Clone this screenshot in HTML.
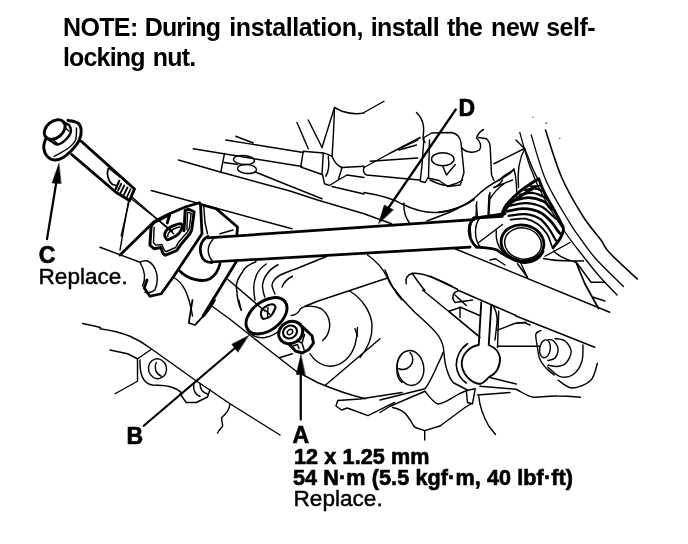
<!DOCTYPE html>
<html><head><meta charset="utf-8"><style>
html,body{margin:0;padding:0;background:#fff;}
body{width:688px;height:544px;position:relative;overflow:hidden;font-family:"Liberation Sans",sans-serif;color:#000;}
.t{position:absolute;white-space:nowrap;line-height:1;filter:grayscale(1);}
.note{font-size:25px;font-weight:bold;transform:scaleY(1.045);transform-origin:0 21.2px;}
.lb{font-size:23px;font-weight:bold;-webkit-text-stroke:0.65px #000;}
.lr{font-size:22.6px;-webkit-text-stroke:0.45px #000;}
svg{position:absolute;left:0;top:0;}
</style></head><body>
<div class="t note" style="top:15px;left:63px;letter-spacing:-0.636px;">NOTE:</div>
<div class="t note" style="top:15px;left:144.7px;letter-spacing:-0.834px;">During</div>
<div class="t note" style="top:15px;left:229.3px;letter-spacing:-0.388px;">installation,</div>
<div class="t note" style="top:15px;left:370.7px;letter-spacing:-0.549px;">install</div>
<div class="t note" style="top:15px;left:447.1px;letter-spacing:-0.848px;">the</div>
<div class="t note" style="top:15px;left:491.1px;letter-spacing:-0.337px;">new</div>
<div class="t note" style="top:15px;left:546.2px;letter-spacing:-0.52px;">self-</div>
<div class="t note" style="top:45px;left:63px;letter-spacing:-0.84px;">locking</div>
<div class="t note" style="top:45px;left:152.75px;letter-spacing:-0.806px;">nut.</div>
<div class="t lb" id="lD" style="left:458.5px;top:97px;">D</div>
<div class="t lb" id="lC" style="left:38.7px;top:244px;">C</div>
<div class="t lr" id="lCr" style="left:38.5px;top:265.8px;">Replace.</div>
<div class="t lb" id="lB" style="left:126.5px;top:424.5px;">B</div>
<div class="t lb" id="lA" style="left:292.5px;top:424px;">A</div>
<div class="t lb" id="lA1" style="left:294px;top:446px;font-size:21.6px;letter-spacing:0.1px;">12 x 1.25 mm</div>
<div class="t lb" id="lA2" style="left:293px;top:467px;font-size:21.6px;letter-spacing:0.1px;">54 N·m (5.5 kgf·m, 40 lbf·ft)</div>
<div class="t lr" id="lA3" style="left:293.5px;top:488px;">Replace.</div>
<svg id="art" width="688" height="544" viewBox="0 0 688 544" fill="none" stroke="#000" stroke-width="1.3" stroke-linecap="round" stroke-linejoin="round">

<path d="M207.5 237.9 L474 219.6" stroke-width="2.7"/>
<path d="M211 262 L470 247.2" stroke-width="2.7"/>
<!-- wheel arcs -->
<path d="M519.8 132.5 C521.4 138.1 525.9 155.4 529.8 166.0 C533.6 176.6 537.1 185.0 543.0 196.0 C548.9 207.0 558.3 222.0 565.0 232.0 C571.7 242.0 577.2 248.5 583.0 256.0 C588.8 263.5 594.3 270.5 600.0 277.0 C605.7 283.5 614.2 292.0 617.0 295.0" stroke-width="1.3"/>
<path d="M531.2 135.0 C533.7 142.7 539.8 166.4 546.2 181.0 C552.6 195.6 564.0 213.1 569.6 222.6 C575.2 232.1 575.6 231.9 580.0 238.0 C584.4 244.1 588.8 250.9 596.0 259.0 C603.2 267.1 618.9 281.9 623.5 286.5" stroke-width="1.3"/>
<path d="M545.5 130.0 C548.2 137.8 555.3 162.7 561.5 177.0 C567.7 191.3 576.2 205.5 582.8 216.0 C589.4 226.5 596.6 233.9 601.0 240.0 C605.4 246.1 603.2 246.0 609.3 252.5 C615.3 259.0 632.6 274.6 637.3 279.0" stroke-width="1.6"/>
<!-- bottom extras -->
<g stroke-width="1.4">
<path d="M337.8 400.5 L335.9 406 L341.6 410 L347.2 408 L368 415.6 L394.5 402.4"/>
<path d="M413.75 426 L415.3 427.5 L424.7 430.7 L424.7 440 M424.7 430.7 L440 426"/>
</g>
<!-- bushing right -->
<g stroke-width="1.4">
<ellipse cx="545" cy="348.8" rx="5.3" ry="9" transform="rotate(8 545 348.8)"/>
<path d="M548.0 339.6 C548.8 339.8 551.3 339.0 553.0 340.5 C554.7 342.0 557.7 345.9 558.0 348.8 C558.3 351.7 556.7 356.1 555.0 358.0 C553.3 359.9 549.2 360.1 548.0 360.5"/>
<path d="M555.0 338.5 C556.7 338.9 562.3 338.9 565.0 341.0 C567.7 343.1 571.0 347.7 571.2 351.4 C571.4 355.1 568.4 360.5 566.0 363.0 C563.6 365.5 560.0 366.2 557.0 366.5 C554.0 366.8 549.5 365.2 548.0 365.0"/>
<path d="M541.0 330.5 C540.1 331.1 536.5 331.4 535.9 334.0 C535.3 336.6 536.6 341.8 537.2 346.0 C537.9 350.2 538.3 355.3 539.8 359.0 C541.3 362.7 543.6 365.3 546.0 368.0 C548.4 370.7 552.8 373.8 554.2 375.0"/>
<path d="M583.0 344.9 C582.8 347.7 583.5 356.9 581.7 361.9 C580.0 366.9 576.2 372.6 572.5 375.0 C568.8 377.4 563.5 377.6 559.4 376.3 C555.3 375.0 549.7 368.6 547.7 367.0"/>
<path d="M597.4 363.2 C596.3 366.0 594.9 376.1 590.8 380.2 C586.6 384.3 578.0 388.0 572.5 388.0 C567.0 388.0 560.5 381.5 558.1 380.2"/>
</g>
<!-- tile1 origin 20,100 -->
<g transform="translate(20,100) scale(0.25)" stroke-width="5.7">
 <g stroke-width="11.8">
  <ellipse cx="139" cy="118" rx="47" ry="33" transform="rotate(-40 139 118)"/>
  <path d="M172.0 90.0 C176.1 91.8 191.3 94.2 196.4 100.8 C201.5 107.4 205.4 119.7 202.8 129.6 C200.2 139.5 189.6 152.3 180.8 160.4 C172.0 168.5 158.8 176.9 150.0 178.0 C141.2 179.1 134.6 170.9 128.0 167.2 C121.4 163.5 113.3 157.9 110.4 156.0" stroke-width="9.5"/>
  <path d="M192.0 81.2 C198.6 83.0 222.8 85.1 231.6 92.0 C240.4 98.9 244.1 111.0 244.8 122.8 C245.5 134.6 241.9 150.3 236.0 162.8 C230.1 175.3 219.9 187.0 209.6 198.0 C199.3 209.0 186.2 221.8 174.4 228.8 C162.6 235.8 149.9 240.7 138.8 240.0 C127.7 239.3 115.3 232.9 108.0 224.4 C100.7 215.9 95.9 200.2 94.8 189.2 C93.7 178.2 100.5 163.5 101.6 158.4" stroke-width="11.8"/>
  <path d="M245 165 L458 356 L438 402"/>
  <path d="M207 218 L385 370 L438 402"/>
  <path d="M108 556 L146 325" stroke-width="9"/>
 </g>
 <path d="M155.6 255 L128 332 L163.5 334 Z" fill="#000" stroke-width="2"/>
 <path d="M178.8 110 L196 124 M134.4 158.4 L150 176"/>
 <path d="M226.0 112.0 C225.3 120.0 227.3 146.7 222.0 160.0 C216.7 173.3 208.3 181.0 194.0 192.0 C179.7 203.0 145.7 220.3 136.0 226.0"/>
 <path d="M353 275 C345 295 352 325 370 338 L388 343 M357 273 L399 306" stroke-width="7"/>
 <path d="M397 323 L383 356" stroke-width="8.5"/>
 <path d="M405 335 L392 362 M417 342 L402 372 M430 350 L414 382 M442 357 L426 392" stroke-width="7"/>
 <path d="M445 395 L610 525"/>
 <path d="M437 402 L405 544"/>
</g>
<!-- tile2 origin 120,180 -->
<g transform="translate(120,180) scale(0.25)" stroke-width="5.7">
 <path d="M50 70 L215 215"/>
 <path d="M35 80 L0 280"/>
 <path d="M125 42 L688 195"/>
 <g stroke-width="11.2">
  <path d="M0 300 L136 167 L189 139 L261 108 L318 91"/>
  <path d="M322 98 L328 215 L215 385 L165 455 L120 465 L97 432 L108 400"/>
  <path d="M124.5 184 L119.7 260.6 L136.4 275 L162.7 270 L172.2 294 L181.8 301 L227.2 282 L241.5 260.6 L279.7 215 L286.9 198.5 L296.4 127 L275 117 L260.6 122 L258 170 L255.8 203" stroke-width="11.8"/>
  <path d="M124.5 184 L136.4 170 L189 143.6 L198.5 141 L189 172" stroke-width="11.2"/>
  <path d="M181.8 229.5 C178 224 178 218 179.4 212.8 C182 205 187 199 193.7 193.7 C202 187 212 183 222.4 179.4 C230 176.5 238 175 243.9 174.6 C249 178 250 183 248.7 189 C246 198 242 206 236.7 212.8 C229 221 219 227 208 232 C201 236 195 238 189 239 C185 237 183 233 181.8 229.5 Z" stroke-width="11.2"/>
  <path d="M322 98 L385 115 L470 188 L468 215"/>
  <path d="M352 226 C325 240 315 270 325 300 C330 320 345 330 368 330"/>
  <path d="M240 365 C275 400 330 410 360 395 C385 380 395 355 400 335"/>
  <path d="M468 322 L332 544"/>
 </g>
 <path d="M136.4 189 L134 251 L143.6 260.6 L167.5 258 L177 279.7 L184 287 L222.4 270 L234.3 248.7 L270 208 L277.3 193.7 L284.5 134 L275 129.3 L270 131.6 L267.8 198.5"/>
 <path d="M191 226 C190 215 200 203 215 196 C225 191 235 188 240 188"/>
 <path d="M335 105 L340 170 L350 215"/>
 <path d="M372 238 C350 260 345 295 368 322"/>
 <path d="M400 215 L452 200"/>
 <path d="M215 390 C250 410 275 450 290 544"/>
 <path d="M432 398 L579 524"/>
 <path d="M544 327 C510 340 495 355 490 368 C470 395 462 420 467 439 C468 470 475 500 485 521"/>
 <path d="M585 336 C565 350 552 365 546 380 C538 400 534 415 535 433 C535 450 537 465 540 480"/>
 <path d="M632 339 C610 350 595 365 585 380 C575 395 570 410 570 427 C572 445 575 458 579 468"/>
 <path d="M828.0 305.0 C810.0 312.3 744.7 339.2 720.0 349.0 C695.3 358.8 692.5 359.2 680.0 364.0 C667.5 368.8 655.0 372.7 645.0 378.0 C635.0 383.3 626.2 388.8 620.0 396.0 C613.8 403.2 608.0 411.0 608.0 421.0 C608.0 431.0 618.0 450.2 620.0 456.0"/>
 <path d="M690 385 C670 395 655 410 648 428"/>
</g>

<!-- tile3 origin 192,100 -->
<g transform="translate(192,100) scale(0.25)" stroke-width="5.7">
 <path d="M135 160 L445 210"/>
 <path d="M175 145 L245 172"/>
 <path d="M5 195 L440 266"/>
 <path d="M130 214 L115 290"/>
 <path d="M-54 240 L113 288 L392 364 L502 400 L688 455 L798 495"/>
 <path d="M129 250 L182 258"/>
 <path d="M251 287 L392 344 L520 395"/>
 <ellipse cx="208" cy="240" rx="42" ry="18" transform="rotate(5 208 240)"/>
 <ellipse cx="220" cy="276" rx="38" ry="18" transform="rotate(5 220 276)"/>
 <path d="M445 205 L525 212 L520 298 L435 268 Z"/>
 <path d="M525 212 C545 215 555 225 560 225 C565 160 568 90 570 30 L600 45 C630 55 660 58 688 52"/>
 <path d="M570 30 L520 190"/>
 <path d="M420 90 L465 195 M465 80 L520 190"/>
 <path d="M560 225 C570 250 585 265 600 270 L688 265"/>
 <path d="M600 270 L585 320 L550 342 L530 335 L522 298"/>
 <path d="M585 320 L620 300 L688 310"/>
 <path d="M560 346 L688 376"/>
 <path d="M545 225 C550 260 545 290 535 305"/>
</g>

<!-- tile4 origin 364,100 -->
<g transform="translate(364,100) scale(0.25)" stroke-width="5.7">
 <path d="M367 38 L96 434" stroke-width="9"/>
 <path d="M58.4 494 L81 420 L117 439 Z" fill="#000" stroke-width="2"/>
 <path d="M0 50 L80 5"/>
 <path d="M0 270 L100 215 L225 150"/>
 <path d="M25 245 L215 232"/>
 <path d="M0 270 C-5 285 0 295 10 300 L222 320"/>
 <path d="M140 200 L210 180 M150 190 L215 160"/>
 <path d="M210 50 C240 80 242 110 236 150 C236 165 245 170 245 170"/>
 <path d="M240 150 L270 132 L350 130 C375 135 385 150 388 170 L400 290 L385 340 L335 346 L300 322 L255 312 L245 330 L225 325 L232 260 Z"/>
 <path d="M262 160 L258 310"/>
 <ellipse cx="315" cy="237" rx="45" ry="26"/>
 <path d="M315 265 L330 300 L365 258"/>
 <path d="M390 190 C405 210 440 215 462 200 C472 185 465 165 450 152 C455 135 465 125 478 118"/>
 <path d="M458 150 L490 155 C500 165 505 175 505 190 L510 300 L520 322"/>
 <path d="M520 255 L640 195"/>
 <path d="M0 370 C60 380 110 392 150 415 C200 440 240 452 290 450 C350 445 410 420 450 385 C480 355 510 335 545 318 C570 305 590 290 600 275"/>
 <path d="M160 412 C158 440 165 470 182 492"/>
 <path d="M440 472 L552 465" stroke-width="11.2"/>
 <path d="M440 472 C425 485 418 510 425 544" stroke-width="11.2"/>
 <path d="M552 465 C560 440 580 415 610 395 C640 375 665 360 688 348" stroke-width="11.2"/>
 <path d="M451 408 L448 467 M500 380 L496 463"/>
 <path d="M252 484 L343 449 L378 432"/>
 <path d="M301 449 C350 445 400 425 440 398" stroke-width="7.5"/>
 <path d="M500 400 C520 370 545 345 560 335"/>
 <path d="M600 280 C610 300 610 350 612 390"/>
 <path d="M540 320 C560 300 580 290 600 280"/>
</g>

<!-- tile5 origin 516,100 -->
<g transform="translate(516,100) scale(0.25)" stroke-width="5.7">
 <path d="M0 160 L35 195 C50 230 65 280 90 320"/>
 <path d="M35 195 C15 230 5 290 10 350"/>
 <rect x="66" y="67" width="4" height="4" fill="#000" stroke="none"/>
 <rect x="118" y="90" width="5" height="5" fill="#000" stroke="none"/>
 <rect x="173" y="151" width="4" height="4" fill="#000" stroke="none"/>
</g>

<!-- tile6 origin 20,236 -->
<g transform="translate(20,236) scale(0.25)" stroke-width="5.7">
 <path d="M320 45 L480 105 C490 100 500 98 510 100 C545 115 560 170 540 215 C530 225 510 228 500 225"/>
 <path d="M480 105 C500 140 505 170 490 200" />
 <path d="M250 350 C280 356 300 360 322 366"/>
</g>
<!-- tile7 origin 100,300 -->
<g transform="translate(100,300) scale(0.25)" stroke-width="5.7">
 <path d="M0 115 C50 122 95 135 120 145 C160 162 185 180 205 195 L380 320 L520 415 L688 520 L720 540"/>
 <path d="M40 200 L110 215 L150 235 L205 198"/>
 <path d="M150 235 L150 325 L60 375"/>
 <path d="M160 240 C158 300 172 335 210 340 C260 340 300 345 330 375"/>
 <ellipse cx="230" cy="275" rx="36" ry="40" transform="rotate(-15 230 275)"/>
 <path d="M225 250 C215 270 222 295 245 305"/>
 <path d="M320 375 L345 410 L385 410 L430 388 L440 358"/>
 <path d="M375 335 C372 360 380 378 400 386 M400 335 C400 355 410 370 430 376"/>
 <path d="M175 503 L545 188" stroke-width="9"/>
 <path d="M595 142 L527 177 L551 208 Z" fill="#000" stroke-width="2"/>
 <path d="M370 0 C365 30 360 60 355 92 L380 100 C395 85 405 70 420 60 C435 40 450 20 460 0" stroke-width="7"/>
 <path d="M555 0 L565 40"/>
 <path d="M520 415 C518 440 505 455 487 470 C485 485 492 495 490 505 C482 515 475 522 470 532"/>
</g>

<!-- tile8 origin 230,270 -->
<g transform="translate(230,270) scale(0.25)" stroke-width="5.7">
 <ellipse cx="146" cy="183" rx="93" ry="58" transform="rotate(-37 146 183)" stroke-width="11.8"/>
 <path d="M66 225 C72 255 100 275 140 270 C165 265 185 255 200 240"/>
 <path d="M124 179 C122 165 130 152 139 149 C150 140 165 136 174 138 C182 142 184 150 180 155 C175 168 170 178 162 185 C152 192 142 196 133 196 C127 192 125 186 124 179 Z" stroke-width="8.5"/>
 <path d="M140 160 L160 178 M152 150 L150 185"/>
 <ellipse cx="243" cy="250" rx="50" ry="43" transform="rotate(-30 243 250)" stroke-width="11.8"/>
 <ellipse cx="240" cy="248" rx="29" ry="25" transform="rotate(-30 240 248)" stroke-width="8.5"/>
 <ellipse cx="240" cy="248" rx="12" ry="9" transform="rotate(-40 240 248)" stroke-width="6"/>
 <path d="M289 226 L328 263 L334 292 L315 318 L289 332 L262 324 L236 296" stroke-width="11.8"/>
 <path d="M268 284 L288 292 L298 258 M288 292 L296 318 M252 304 L270 298 L276 314" stroke-width="6"/>
 <path d="M283 598 L283 410" stroke-width="9"/>
 <path d="M283.6 339 L265 418 L300 418 Z" fill="#000" stroke-width="2"/>
 <path d="M-70 146 L0 197 L130 300 L265 405 L350 450 C420 480 480 500 540 515"/>
 <path d="M200 350 L250 335"/>
 <path d="M380 462 L600 275"/>
 <path d="M245 182 C262 180 275 170 282 155 C300 140 340 142 365 155 C395 175 405 215 395 245 C390 262 380 275 370 282"/>
 <path d="M320 335 C335 360 360 382 400 385 C450 385 485 345 500 300 C508 270 510 250 510 230"/>
 <path d="M480 85 C530 115 565 170 568 220 C570 270 550 315 520 350"/>
 <path d="M620 0 C635 40 655 85 688 120"/>
 <path d="M431 522 L520 516 L688 490"/>
 <path d="M688 335 C672 350 665 380 668 410 C670 430 678 442 688 450"/>
</g>

<!-- tile9 origin 280,200 -->
<g transform="translate(280,200) scale(0.25)" stroke-width="5.7">
 <path d="M100 425 L150 405 L430 312"/>
 <path d="M350 220 C380 240 410 270 430 312 C440 335 450 350 460 360"/>
 <path d="M505 335 C500 315 510 300 530 293 C570 290 630 315 688 345"/>
 <path d="M530 295 C550 325 565 345 580 362"/>
 <path d="M300 515 L310 544"/>
</g>

<!-- tile10 origin 430,180 -->
<g transform="translate(430,180) scale(0.25)" stroke-width="5.7">
 <g stroke-width="11.2">
  <path d="M175 152 C150 180 148 232 185 268"/>
  <path d="M185 152 L300 135"/>
  <path d="M185 268 C215 272 245 270 268 280 C295 298 330 325 375 330 C410 332 440 315 452 285"/>
  <ellipse cx="370" cy="252" rx="86" ry="72" transform="rotate(12 370 252)"/>
  <path d="M286.0 138.0 C289.3 131.5 295.0 113.3 306.0 99.0 C317.0 84.7 335.3 66.3 352.0 52.0 C368.7 37.7 392.2 22.3 406.0 13.0 C419.8 3.7 430.2 -1.2 435.0 -4.0" stroke-width="11.8"/>
  <path d="M435.0 -4.0 C438.8 5.3 448.5 32.7 458.0 52.0 C467.5 71.3 481.0 92.0 492.0 112.0 C503.0 132.0 517.0 157.7 524.0 172.0 C531.0 186.3 535.0 187.0 534.0 198.0 C533.0 209.0 525.0 225.8 518.0 238.0 C511.0 250.2 496.3 265.5 492.0 271.0" stroke-width="11.5"/>
  <path d="M402.6 26.2 L443.0 22.5" stroke-width="8"/>
  <path d="M380.6 40.9 C386.7 39.7 405.2 32.9 417.4 33.5 C429.6 34.1 447.9 42.8 454.0 44.6" stroke-width="9"/>
  <path d="M358.5 59.3 C367.1 58.1 392.8 50.1 410.0 51.9 C427.2 53.7 451.8 66.3 461.5 70.3 C471.2 74.3 466.9 75.0 468.0 76.0" stroke-width="9"/>
  <path d="M336.5 81.3 C346.3 79.5 375.7 69.7 395.3 70.3 C414.9 70.9 440.6 78.9 454.0 85.0 C467.4 91.1 470.5 101.5 476.0 107.0 C481.5 112.5 485.2 116.2 487.0 118.0" stroke-width="11.5"/>
  <path d="M318.0 103.4 C328.4 101.6 359.1 91.8 380.6 92.4 C402.1 93.0 428.4 98.4 446.8 107.0 C465.2 115.6 481.5 135.8 491.0 143.8 C500.5 151.8 501.8 153.1 504.0 155.0" stroke-width="8.5"/>
  <path d="M307.0 125.4 C318.0 123.6 350.9 113.8 373.0 114.4 C395.1 115.0 421.0 120.4 439.4 129.0 C457.8 137.6 472.5 154.8 483.5 165.9 C494.5 177.0 499.7 187.5 505.6 195.3 C511.5 203.2 516.8 210.1 519.0 213.0" stroke-width="11.5"/>
  <path d="M314.4 143.8 C325.4 142.6 359.8 134.7 380.6 136.5 C401.4 138.3 423.5 145.1 439.4 154.9 C455.3 164.7 466.2 182.5 476.0 195.3 C485.8 208.2 492.8 223.4 498.0 232.0 C503.2 240.6 505.5 244.5 507.0 247.0" stroke-width="9"/>
  <path d="M321.8 158.5 C331.6 157.9 362.2 151.8 380.6 154.9 C399.0 158.0 417.3 166.6 432.0 177.0 C446.7 187.4 460.2 204.6 468.8 217.4 C477.4 230.2 480.3 246.1 483.5 254.0 C486.7 261.9 487.2 263.2 488.0 265.0" stroke-width="7"/>
 </g>
 <path d="M198 152 C176 185 176 236 202 270"/>
 <ellipse cx="372" cy="254" rx="74" ry="62" transform="rotate(12 372 254)"/>
 <path d="M195 250 L290 178"/>
 <path d="M265 200 C262 240 272 268 292 288"/>
 <path d="M100 275 L719 529"/>
 <path d="M0 385 L110 437"/>
 <path d="M460 305 L560 250"/>
 <path d="M240 320 L262 315 L300 340 M350 335 L390 390"/>
 <path d="M260 30 C275 20 285 10 290 0"/>
 <path d="M185 100 L190 148 M240 50 L236 140"/>
 <path d="M255 30 C280 20 305 10 330 0"/>
 <path d="M0 0 C30 15 60 25 80 22 C100 15 120 10 130 0"/>
</g>

<!-- tile11 origin 516,236 -->
<g transform="translate(516,236) scale(0.25)" stroke-width="5.7">
 <path d="M110 90 C150 100 190 100 235 100 L270 100 M150 60 C165 75 200 95 240 105"/>
 <path d="M240 105 L275 190 L330 290" stroke-width="7"/>
 <path d="M245 110 L300 185 L355 185"/>
 <path d="M310 245 L355 260"/>
 <path d="M20 110 L45 165"/>
 <path d="M0 320 L315 445"/>
 <path d="M0 350 L40 345"/>
</g>
<!-- tile12 origin 380,290 -->
<g transform="translate(380,290) scale(0.25)" stroke-width="5.7">
 <path d="M405 50 L395 220 C360 225 330 255 327 290 C325 330 360 372 400 376 C420 372 425 355 440 345 C465 335 482 305 480 270 C475 245 455 228 435 220 L445 60" stroke-width="7.5"/>
 <path d="M350 215 C320 235 305 270 305 300 C308 335 320 355 345 372" stroke-width="6.5"/>
 <path d="M60 0 C90 40 115 65 140 90 C180 125 215 155 235 185 C250 210 255 230 255 245 C258 275 260 300 268 320 C275 345 285 362 295 372 L350 400"/>
 <path d="M170 0 L390 180"/>
 <path d="M310 0 L544 102"/>
 <path d="M310 5 C290 10 285 35 300 50 L370 40"/>
 <path d="M275 85 L320 70 L320 110 M275 85 L400 190 M320 68 L401 103 M300 20 L345 62"/>
 <path d="M450 60 C465 80 470 100 468 130 L460 200 M475 85 L470 230"/>
 <path d="M470 160 C500 150 520 140 545 132 C570 128 585 132 600 140"/>
 <path d="M470 225 L640 225"/>
 <ellipse cx="122" cy="312" rx="53" ry="70" transform="rotate(-8 122 312)"/>
 <path d="M120 250 C135 265 135 290 120 305 C105 320 88 320 75 315"/>
 <path d="M0 440 L180 395 C200 370 215 335 230 300 C240 280 248 262 252 250"/>
 <path d="M0 490 L40 465 L180 405 C200 430 215 452 232 456 C255 455 275 440 295 428 C315 415 345 400 382 395"/>
 <path d="M440 350 L545 376 M400 385 L545 397 C570 410 590 425 613 429 C650 430 680 422 707 424 C740 424 770 426 802 429 M390 420 L520 410"/>
 <path d="M345 400 L350 450 L370 455 L380 400"/>
 <path d="M395 425 C398 460 410 500 435 544 L462 578"/>
 <path d="M240 544 L340 470 L365 455"/>
 <path d="M50 470 C80 475 100 490 110 505 C122 520 130 535 135 544"/>
</g>
</svg>
</body></html>
